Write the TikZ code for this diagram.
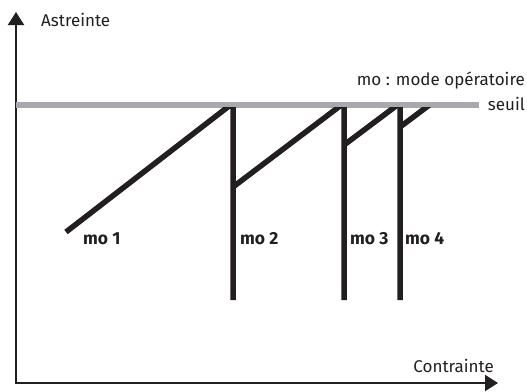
\documentclass[tikz,border=0pt]{standalone}
\usepackage{fontspec}
\setmainfont{Fira Sans}
\usetikzlibrary{arrows.meta}
\definecolor{inkblack}{HTML}{231F20}
\definecolor{seuilgray}{HTML}{A7A9AC}
\tikzset{
  axisline/.style={draw=inkblack, line width=2pt},
  moline/.style={draw=inkblack, line width=5.5pt, line join=miter},
  seuilline/.style={draw=seuilgray, line width=6pt},
  lbl/.style={inner sep=0pt, text=inkblack, font=\fontsize{17}{20}\selectfont},
  molbl/.style={inner sep=0pt, text=inkblack, font=\fontsize{17.5}{20}\selectfont\bfseries, anchor=west},
}
\begin{document}
\begin{tikzpicture}[x=1pt, y=-1pt]
\useasboundingbox (0,0) rectangle (527,391);
% axes
\coordinate (O) at (16,383);
\coordinate (ytip) at (16,12);
\coordinate (xtip) at (498,383);
\draw[axisline, {Triangle[length=13pt,width=16pt]}-{Triangle[length=13pt,width=16pt]}] (ytip) -- (O) -- (xtip);
% seuil
\coordinate (s0) at (16,104.5);
\coordinate (s1) at (479,104.5);
\draw[seuilline] (s0) -- (s1);
% mo lines
\coordinate (a1) at (66,232);
\coordinate (t1) at (233,103);
\coordinate (b1) at (233,300);
\coordinate (a2) at (233,187);
\coordinate (t2) at (344,103);
\coordinate (b2) at (344,300);
\coordinate (a3) at (344,145);
\coordinate (t3) at (400,103);
\coordinate (b3) at (400,300);
\coordinate (a4) at (400,127);
\coordinate (t4) at (432,103);
\begin{scope}
\clip (0,107.5) rectangle (527,391);
\draw[moline] (a1) -- (t1) -- (b1);
\draw[moline] (a2) -- (t2) -- (b2);
\draw[moline] (a3) -- (t3) -- (b3);
\draw[moline] (a4) -- (t4);
\end{scope}
% labels
\node[lbl, anchor=west] (astr) at (41,20) {Astreinte};
\node[lbl, anchor=east] (contr) at (494,366) {Contrainte};
\node[lbl, anchor=east] (mode) at (525,80) {mo : mode opératoire};
\node[lbl, anchor=east] (seuil) at (525,104) {seuil};
\node[molbl] (mo1) at (83,239) {mo 1};
\node[molbl] (mo2) at (240,239) {mo 2};
\node[molbl] (mo3) at (350,239) {mo 3};
\node[molbl] (mo4) at (405,239) {mo 4};
\end{tikzpicture}
\end{document}
